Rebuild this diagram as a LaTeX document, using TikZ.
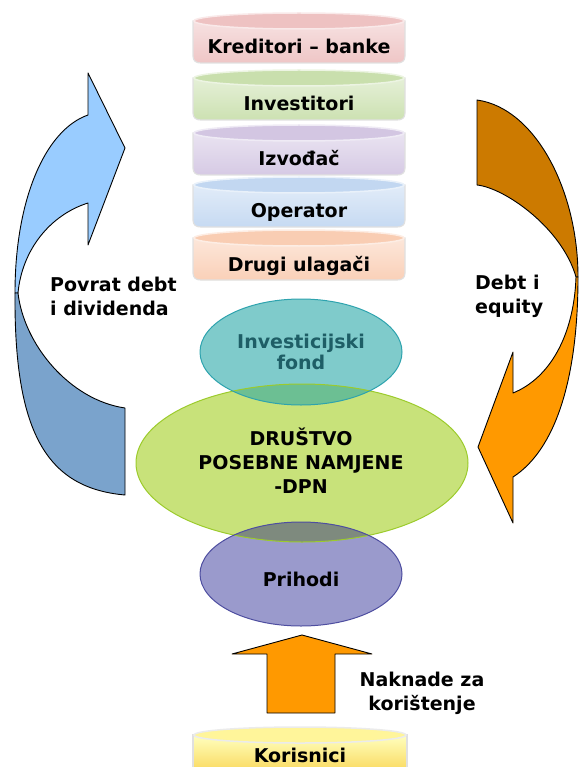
\documentclass[tikz,border=0pt]{standalone}
\usepackage{fontspec}
\setmainfont{DejaVu Sans}
\usepackage{xcolor}
\usepackage{tikz}
\usetikzlibrary{shapes.geometric}
\definecolor{diskpink}{RGB}{227, 156, 156}
\definecolor{diskgreen}{RGB}{168, 204, 122}
\definecolor{diskpurple}{RGB}{184, 163, 209}
\definecolor{diskblue}{RGB}{157, 191, 233}
\definecolor{diskorange}{RGB}{246, 174, 132}
\definecolor{fondteal}{RGB}{127, 203, 203}
\definecolor{fondborder}{RGB}{46, 163, 174}
\definecolor{fondtext}{RGB}{30, 94, 102}
\definecolor{dpngreen}{RGB}{200, 226, 122}
\definecolor{dpnborder}{RGB}{156, 203, 44}
\definecolor{prihodipurple}{RGB}{154, 154, 204}
\definecolor{prihodiborder}{RGB}{78, 78, 160}
\definecolor{overlapteal}{RGB}{108, 191, 147}
\definecolor{overlapgray}{RGB}{126, 138, 126}
\definecolor{arrowlight}{RGB}{153, 204, 255}
\definecolor{arrowdark}{RGB}{122, 163, 204}
\definecolor{orangedark}{RGB}{204, 122, 0}
\definecolor{orangebright}{RGB}{255, 153, 0}

\begin{document}
\begin{tikzpicture}[
    x=1pt, y=-1pt,
    lbl/.style={font=\fontsize{19}{24}\selectfont\bfseries, align=center, inner sep=0pt},
    disklbl/.style={lbl, text height=14pt, text depth=4pt},
    bubble/.style={ellipse, inner sep=0pt, fill=#1},
    blockarrow/.style={draw=black, line width=0.9pt, line join=round}
]
\useasboundingbox (0,0) rectangle (579,767);
% stack of investors
\foreach \y/\c/\n/\t in {13/diskpink/kred/Kreditori – banke, 70/diskgreen/inv/Investitori,
    125/diskpurple/izv/Izvođač, 177/diskblue/oper/Operator, 230/diskorange/drugi/Drugi ulagači} {
    \shade[top color=\c!30, bottom color=\c!58, draw=black!12, line width=1.2pt]
        (193,\y+8) -- (193,\y+43) .. controls (193,\y+48) and (196,\y+50) .. (201,\y+50)
        -- (397,\y+50) .. controls (402,\y+50) and (405,\y+48) .. (405,\y+43) -- (405,\y+8) -- cycle;
    \filldraw[fill=\c!62, draw=\c!22, line width=1.5pt] (299,\y+8) ellipse [x radius=105, y radius=8];
    \node[disklbl] (\n) at (299,\y+36) {\t};
}
% users
\shade[top color=yellow!25, bottom color={rgb,255:red,249;green,214;blue,85}, draw=black!12, line width=1.2pt]
    (193,735) -- (193,775) -- (407,775) -- (407,735) -- cycle;
\filldraw[fill={rgb,255:red,255;green,245;blue,154}, draw=black!8, line width=1.5pt] (300,735) ellipse [x radius=106, y radius=8];
\node[disklbl] (kor) at (300,757) {Korisnici};
% central bubbles
\node[bubble=dpngreen, minimum width=332pt, minimum height=158pt] (dpn) at (302,463) {};
\node[bubble=fondteal, minimum width=202pt, minimum height=106pt] (fond) at (301,352) {};
\node[bubble=prihodipurple, minimum width=202pt, minimum height=104pt] (prihodi) at (301,574) {};
\begin{scope}
    \clip (dpn.center) ellipse [x radius=166, y radius=79];
    \fill[overlapteal] (fond.center) ellipse [x radius=101, y radius=53];
    \fill[overlapgray] (prihodi.center) ellipse [x radius=101, y radius=52];
\end{scope}
\draw[dpnborder, line width=1pt] (dpn.center) ellipse [x radius=166, y radius=79];
\draw[fondborder, line width=1pt] (fond.center) ellipse [x radius=101, y radius=53];
\draw[prihodiborder, line width=1pt] (prihodi.center) ellipse [x radius=101, y radius=52];
\node[lbl, fondtext, font=\fontsize{19}{21}\selectfont\bfseries] (fondtxt) at (fond.center) {Investicijski\\fond};
\node[lbl] (dpntxt) at (301,461) {DRUŠTVO\\POSEBNE NAMJENE\\-DPN};
\node[lbl] (prihoditxt) at (301,579) {Prihodi};
% return flow (left)
\filldraw[blockarrow, fill=arrowlight] (15,293) .. controls (15,200) and (45,130) .. (88,115) -- (88,73)
    -- (125,148) -- (88,245) -- (88,203) .. controls (50,215) and (22,250) .. (18,293) -- cycle;
\filldraw[blockarrow, fill=arrowdark] (15,293) .. controls (14,430) and (45,488) .. (125,495) -- (125,408)
    .. controls (70,400) and (24,345) .. (18,293) -- cycle;
\node[lbl, align=left, anchor=west] (povrat) at (50,296) {Povrat debt\\i dividenda};
% financing flow (right)
\filldraw[blockarrow, fill=orangedark] (477,100) .. controls (535,108) and (578,190) .. (578,277) -- (576,277)
    .. controls (562,228) and (505,188) .. (477,185) -- cycle;
\filldraw[blockarrow, fill=orangebright] (578,277) .. controls (578,380) and (555,450) .. (513,477) -- (513,523)
    -- (478,447) -- (513,352) -- (513,393) .. controls (550,378) and (574,335) .. (576,277) -- cycle;
\node[lbl, align=left, anchor=west] (debt) at (475,296) {Debt i\\equity};
% user fees
\filldraw[blockarrow, fill=orangebright] (302,635) -- (372,654) -- (335,654) -- (335,713) -- (267,713)
    -- (267,654) -- (232,654) -- cycle;
\node[lbl] (naknade) at (422,693) {Naknade za\\korištenje};
\end{tikzpicture}
\end{document}
